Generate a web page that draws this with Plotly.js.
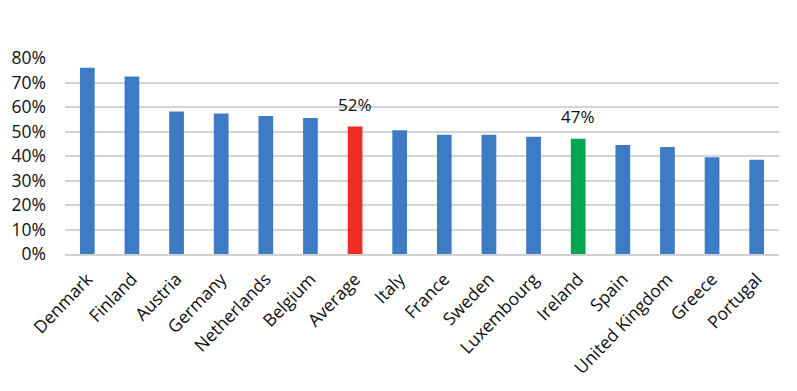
<!DOCTYPE html>
<html><head><meta charset="utf-8">
<script src="https://cdn.plot.ly/plotly-3.0.1.min.js"></script>
<style>html,body{margin:0;padding:0;background:#fff}#c{width:797px;height:391px}</style>
</head><body><div id="c"></div>
<script>
const categories = ["Denmark","Finland","Austria","Germany","Netherlands","Belgium","Average","Italy","France","Sweden","Luxembourg","Ireland","Spain","United Kingdom","Greece","Portugal"];
const values = [76, 72.5, 58.2, 57.3, 56.3, 55.5, 52, 50.5, 48.7, 48.7, 47.9, 47, 44.5, 43.7, 39.5, 38.5];
const highlight = {"Average": "#EE2E24", "Ireland": "#00A651"};
const labelled = ["Average", "Ireland"];
const tickVals = [0, 10, 20, 30, 40, 50, 60, 70, 80];
const tickText = ["0%", "10%", "20%", "30%", "40%", "50%", "60%", "70%", "80%"];

const colors = categories.map(c => highlight[c] || "#3D7CC5");
const annotations = labelled.map(c => {
  const i = categories.indexOf(c);
  return {x: c, y: values[i], xref: "x", yref: "y", text: Math.round(values[i]) + "%",
    showarrow: false, yanchor: "bottom", yshift: 9,
    font: {family: "Open Sans, sans-serif", size: 17, color: "#111"}};
});

Plotly.newPlot("c", [{
  type: "bar", x: categories, y: values,
  marker: {color: colors},
  width: 0.33,
  hoverinfo: "skip"
}], {
  width: 797, height: 391,
  margin: {l: 65, r: 18, t: 58, b: 137},
  paper_bgcolor: "#fff", plot_bgcolor: "#fff",
  showlegend: false,
  font: {family: "Open Sans, sans-serif", color: "#111"},
  annotations: annotations,
  xaxis: {tickangle: -46, tickfont: {size: 17.5, color: "#111"}, showline: true, linecolor: "#d0d0d0", linewidth: 2, ticks: "", ticklabelstandoff: 6, automargin: false},
  yaxis: {range: [0, 80], tickvals: tickVals, ticktext: tickText, tickfont: {size: 17.5, color: "#111"}, gridcolor: "#d4d4d4", gridwidth: 2, zeroline: false, ticks: "", ticklabelstandoff: 18, automargin: false}
}, {staticPlot: true});
</script></body></html>
